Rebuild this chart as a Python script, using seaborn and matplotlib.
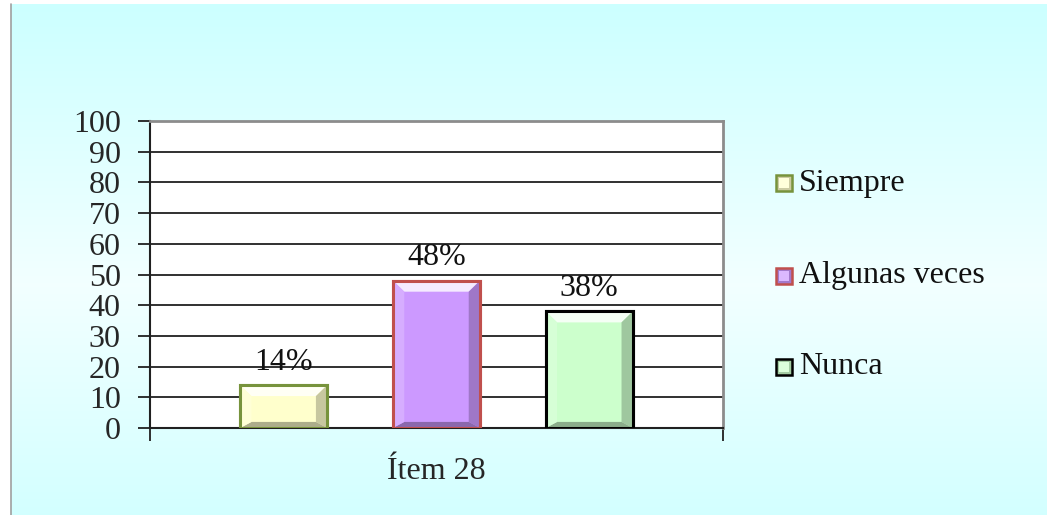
import numpy as np
import pandas as pd
import matplotlib
matplotlib.use("Agg")
import matplotlib.pyplot as plt
from matplotlib.patches import Polygon
import seaborn as sns

# Data
item_label = "Ítem 28"
answers = ["Siempre", "Algunas veces", "Nunca"]
percentages = [14, 48, 38]
value_labels = ["14%", "48%", "38%"]
y_ticks = [0, 10, 20, 30, 40, 50, 60, 70, 80, 90, 100]

fill_colors = ["#FFFFCC", "#CC99FF", "#CCFFCC"]
edge_colors = ["#77933C", "#C0504D", "#000000"]

sns.set_theme(style="white")
plt.rcParams["font.family"] = ["Liberation Serif", "DejaVu Serif"]

FS = 23
W, H, DPI = 1047, 515, 100
fig = plt.figure(figsize=(W / DPI, H / DPI), dpi=DPI)
fig.patch.set_facecolor("white")

# Gradient backdrop: cyan at top and bottom, nearly white in the middle
bg = fig.add_axes([11 / W, 0, 1 - 11 / W, 1 - 4 / H])
t = np.linspace(0, 1, 256)
c_edge = np.array([0.80, 1.0, 1.0])
c_mid = np.array([0.95, 1.0, 1.0])
w = 1 - np.abs(t - 0.55) / 0.55
w = np.clip(w, 0, 1)
grad = c_edge[None, :] * (1 - w[:, None]) + c_mid[None, :] * w[:, None]
bg.imshow(grad[:, None, :], aspect="auto", extent=[0, 1, 0, 1])
bg.set_axis_off()
fig.add_artist(plt.Line2D([10.5 / W, 10.5 / W], [0, 1 - 4 / H],
                          color="#A0A0A0", lw=1.2, transform=fig.transFigure))

# Plot area
left, right, top, bottom = 150, 723, 121, 428
ax = fig.add_axes([left / W, 1 - bottom / H, (right - left) / W, (bottom - top) / H])
ax.set_facecolor("white")

df = pd.DataFrame({"item": [item_label] * 3, "answer": answers, "pct": percentages})
sns.barplot(data=df, x="item", y="pct", hue="answer", hue_order=answers,
            palette=fill_colors, width=0.8, gap=0.43, ax=ax, legend=False,
            zorder=3)

ax.set_ylim(0, 100)
ax.set_xlim(-0.5, 0.5)
ax.set_yticks(y_ticks)
ax.set_yticklabels([str(v) for v in y_ticks], fontsize=FS)
ax.set_xticks([0])
ax.set_xticklabels([item_label], fontsize=FS)
ax.set_xlabel("")
ax.set_ylabel("")
ax.yaxis.grid(True, color="#202020", lw=1.3, zorder=0)
ax.set_axisbelow(True)

for s in ["top", "right"]:
    ax.spines[s].set_color("#8C8C8C")
    ax.spines[s].set_linewidth(2.0)
for s in ["left", "bottom"]:
    ax.spines[s].set_color("#202020")
    ax.spines[s].set_linewidth(1.5)

ax.tick_params(axis="y", which="major", direction="out", length=9, width=1.3,
               color="#202020", pad=12, left=True)
ax.tick_params(axis="x", which="major", length=0, pad=21)
# category boundary ticks on the bottom axis
ax.set_xticks([-0.5, 0.5], minor=True)
ax.tick_params(axis="x", which="minor", direction="out", length=9, width=1.3,
               color="#202020", bottom=True)


def shade(hex_color, f):
    rgb = np.array(matplotlib.colors.to_rgb(hex_color))
    if f >= 0:
        return tuple(rgb + (1 - rgb) * f)
    return tuple(rgb * (1 + f))


# Bevelled bars: outline, light top facet, dark right/bottom facets
bars = [p for p in ax.patches]
for bar, fc, ec, lab in zip(bars, fill_colors, edge_colors, value_labels):
    bar.set_edgecolor(ec)
    bar.set_linewidth(2.2)
    bar.set_facecolor(fc)
    x0, y0 = bar.get_x(), bar.get_y()
    bw, bh = bar.get_width(), bar.get_height()
    x1, y1 = x0 + bw, y0 + bh
    inset_x = bw * 0.13
    inset_y = min(3.6, bh * 0.3)
    ix0, ix1 = x0 + inset_x, x1 - inset_x
    iy0, iy1 = y0 + inset_y * 0.55, y1 - inset_y
    facets = [
        ([(x0, y1), (x1, y1), (ix1, iy1), (ix0, iy1)], shade(fc, 0.8)),
        ([(x1, y1), (x1, y0), (ix1, iy0), (ix1, iy1)], shade(fc, -0.22)),
        ([(x0, y0), (x1, y0), (ix1, iy0), (ix0, iy0)], shade(fc, -0.32)),
        ([(x0, y0), (x0, y1), (ix0, iy1), (ix0, iy0)], shade(fc, 0.2)),
    ]
    for pts, col in facets:
        ax.add_patch(Polygon(pts, closed=True, facecolor=col, edgecolor="none",
                             zorder=3.5))
    ax.add_patch(matplotlib.patches.Rectangle((x0, y0), bw, bh, fill=False,
                                              edgecolor=ec, lw=2.2, zorder=4))
    ax.annotate(lab, (x0 + bw / 2, y1), xytext=(0, 6), textcoords="offset points",
                ha="center", va="bottom", fontsize=FS, color="#111111", zorder=5)

# Legend
leg_ax = fig.add_axes([0, 0, 1, 1], facecolor="none")
leg_ax.set_axis_off()
leg_ax.set_xlim(0, W)
leg_ax.set_ylim(H, 0)
for name, fc, ec, yy in zip(answers, fill_colors, edge_colors, [183, 276, 367]):
    leg_ax.add_patch(matplotlib.patches.Rectangle((776, yy - 8), 16, 16,
                                                  facecolor=shade(fc, -0.2),
                                                  edgecolor=ec, lw=1.8))
    leg_ax.add_patch(matplotlib.patches.Rectangle((779, yy - 5), 10, 10,
                                                  facecolor=shade(fc, 0.3),
                                                  edgecolor="none"))
    leg_ax.text(799, yy, name, fontsize=FS, va="center", ha="left", color="#111111")

fig.savefig("out.png", dpi=DPI)
